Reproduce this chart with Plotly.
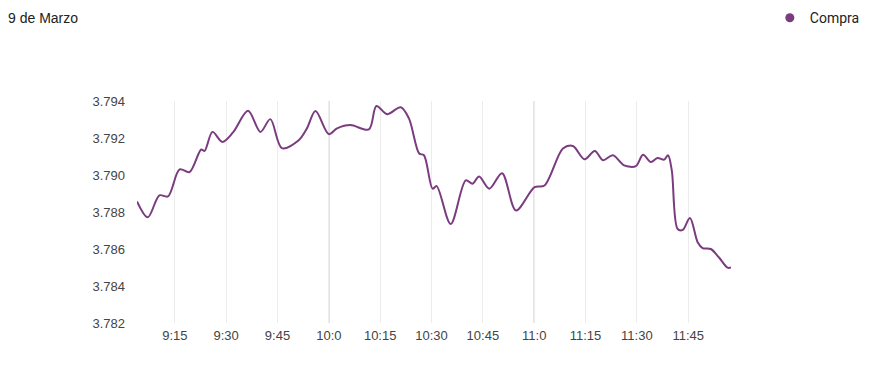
import plotly.graph_objects as go

DAY = "2023-03-09"
times = ["09:03:57", "09:07:06", "09:10:30", "09:13:00", "09:16:24", "09:19:18", "09:22:42",
         "09:23:42", "09:26:00", "09:28:54", "09:32:00", "09:36:24", "09:40:00", "09:42:54",
         "09:46:18", "09:51:12", "09:53:36", "09:56:06", "10:00:00", "10:02:24", "10:06:18",
         "10:11:42", "10:13:54", "10:17:00", "10:21:00", "10:23:24", "10:26:24", "10:27:48",
         "10:30:18", "10:31:30", "10:35:36", "10:40:00", "10:42:00", "10:43:54", "10:46:54",
         "10:50:36", "10:54:42", "11:00:06", "11:03:00", "11:08:24", "11:11:18", "11:14:42",
         "11:17:42", "11:20:06", "11:23:00", "11:26:18", "11:29:42", "11:31:48", "11:34:06",
         "11:36:00", "11:38:00", "11:39:06", "11:40:12", "11:41:54", "11:43:24", "11:45:30",
         "11:47:48", "11:49:12", "11:51:36", "11:54:00", "11:56:30", "11:57:30"]
compra = [3.78857, 3.78771, 3.78890, 3.78884, 3.79030, 3.79016, 3.79138,
          3.79130, 3.79233, 3.79179, 3.79230, 3.79347, 3.79233, 3.79302,
          3.79145, 3.79188, 3.79252, 3.79346, 3.79221, 3.79252, 3.79270,
          3.79246, 3.79373, 3.79329, 3.79366, 3.79306, 3.79116, 3.79107,
          3.78926, 3.78940, 3.78735, 3.78971, 3.78953, 3.78992, 3.78926,
          3.79010, 3.78808, 3.78934, 3.78943, 3.79143, 3.79157, 3.79085,
          3.79130, 3.79080, 3.79107, 3.79052, 3.79048, 3.79110, 3.79070,
          3.79092, 3.79083, 3.79107, 3.79025, 3.78708, 3.78703, 3.78768,
          3.78635, 3.78605, 3.78600, 3.78554, 3.78499, 3.78500]

tick_times = ["09:15", "09:30", "09:45", "10:00", "10:15", "10:30", "10:45",
              "11:00", "11:15", "11:30", "11:45"]
tick_labels = ["9:15", "9:30", "9:45", "10:0", "10:15", "10:30", "10:45",
               "11:0", "11:15", "11:30", "11:45"]
hour_lines = ["10:00", "11:00"]
y_ticks = [3.782, 3.784, 3.786, 3.788, 3.790, 3.792, 3.794]
title_text = "9 de Marzo"
series_name = "Compra"

COLOR = "#7b3b7f"
x = [f"{DAY} {t}" for t in times]

fig = go.Figure()
fig.add_trace(go.Scatter(
    x=x, y=compra, mode="lines", line=dict(color=COLOR, width=2, shape="spline", smoothing=0.9),
    showlegend=False, hoverinfo="x+y"))
fig.add_trace(go.Scatter(
    x=[None], y=[None], mode="markers", name=series_name,
    marker=dict(color=COLOR, size=9, symbol="circle")))

for h in hour_lines:
    fig.add_shape(type="line", xref="x", yref="paper", x0=f"{DAY} {h}", x1=f"{DAY} {h}",
                  y0=0, y1=1, line=dict(color="#d0d0d0", width=1.5), layer="below")

fig.update_layout(
    width=869, height=377,
    margin=dict(l=129, r=146, t=93, b=62),
    plot_bgcolor="white", paper_bgcolor="white",
    font=dict(family="Arial, Liberation Sans", size=13, color="#333"),
    title=dict(text=title_text, x=0.0, xanchor="left", xref="container", y=0.973,
               yanchor="middle",
               font=dict(family="Arial, Liberation Sans", size=14, color="#222")),
    legend=dict(x=0.986, xanchor="right", xref="container", y=0.973, yanchor="middle",
                yref="container", orientation="h",
                font=dict(family="Roboto", size=14, color="#222"), itemwidth=30),
    xaxis=dict(range=[x[0], x[-1]], tickvals=[f"{DAY} {t}" for t in tick_times],
               ticktext=tick_labels, showgrid=True, gridcolor="#ececec", gridwidth=1,
               zeroline=False, showline=False, ticks="", ticklabelstandoff=3,
               tickfont=dict(size=13, color="#444")),
    yaxis=dict(range=[3.782, 3.794], tickvals=y_ticks, tickformat=".3f", showgrid=False,
               zeroline=False, showline=False, ticks="", ticklabelstandoff=11,
               tickfont=dict(size=13, color="#444")),
)

fig.write_html("out.html")
